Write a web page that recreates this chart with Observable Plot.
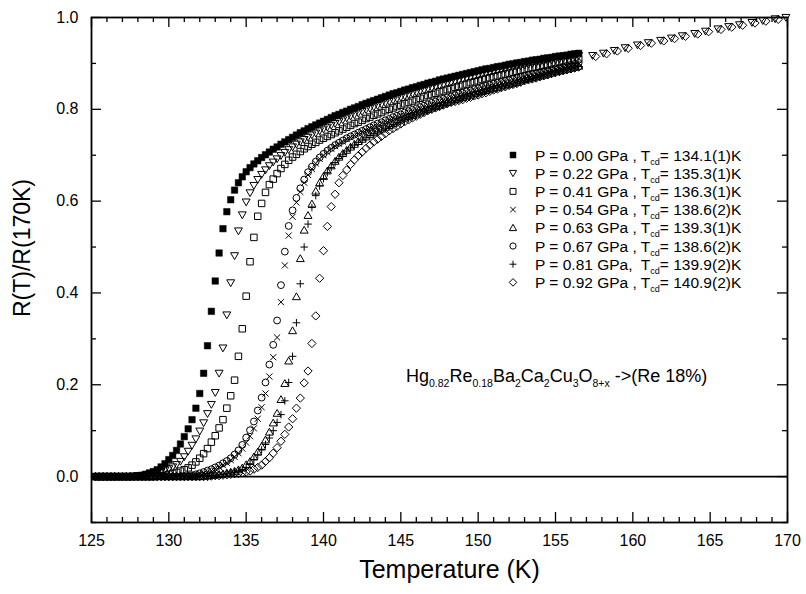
<!DOCTYPE html>
<html><head><meta charset="utf-8">
<script src="https://cdn.jsdelivr.net/npm/d3@7"></script>
<script src="https://cdn.jsdelivr.net/npm/@observablehq/plot@0.6"></script>
<style>
body{margin:0;background:#fff;}
#chart{width:806px;height:594px;}
</style></head><body><div id="chart"></div>
<script>
// Temperature grid (K)
const temperature = [
125.25,125.5,125.75,126,126.25,126.5,126.75,127,
127.25,127.5,127.75,128,128.25,128.5,128.75,129,
129.25,129.5,129.75,130,130.25,130.5,130.75,131,
131.25,131.5,131.75,132,132.25,132.5,132.75,133,
133.25,133.5,133.75,134,134.25,134.5,134.75,135,
135.25,135.5,135.75,136,136.25,136.5,136.75,137,
137.25,137.5,137.75,138,138.25,138.5,138.75,139,
139.25,139.5,139.75,140,140.25,140.5,140.75,141,
141.25,141.5,141.75,142,142.25,142.5,142.75,143,
143.25,143.5,143.75,144,144.25,144.5,144.75,145,
145.25,145.5,145.75,146,146.25,146.5,146.75,147,
147.25,147.5,147.75,148,148.25,148.5,148.75,149,
149.25,149.5,149.75,150,150.25,150.5,150.75,151,
151.25,151.5,151.75,152,152.25,152.5,152.75,153,
153.25,153.5,153.75,154,154.25,154.5,154.75,155,
155.25,155.5,155.75,156,156.25,156.5,156.75,157];

// R(T)/R(170K) for each pressure
const r000 = [
0,0,0,0,0,0,0,0,
0,0,0.001,0.002,0.003,0.005,0.008,0.011,
0.015,0.021,0.028,0.037,0.046,0.057,0.071,0.087,
0.104,0.124,0.149,0.181,0.225,0.285,0.360,0.426,
0.487,0.540,0.577,0.603,0.624,0.640,0.653,0.664,
0.673,0.681,0.688,0.695,0.701,0.707,0.713,0.718,
0.724,0.729,0.734,0.739,0.744,0.749,0.753,0.758,
0.762,0.766,0.770,0.774,0.778,0.782,0.786,0.789,
0.793,0.796,0.800,0.803,0.806,0.810,0.813,0.816,
0.819,0.822,0.825,0.828,0.831,0.834,0.836,0.839,
0.842,0.844,0.847,0.849,0.852,0.854,0.857,0.859,
0.861,0.864,0.866,0.868,0.870,0.872,0.874,0.876,
0.878,0.880,0.882,0.884,0.886,0.888,0.889,0.891,
0.893,0.894,0.896,0.898,0.899,0.901,0.902,0.904,
0.905,0.907,0.908,0.909,0.911,0.912,0.913,0.915,
0.916,0.917,0.918,0.920,0.921,0.922,null,null];

const r022 = [
0,0,0,0,0,0,0,0,
0,0,0,0.001,0.002,0.003,0.005,0.007,
0.009,0.011,0.014,0.017,0.021,0.026,0.033,0.043,
0.055,0.068,0.082,0.099,0.117,0.137,0.157,0.183,
0.225,0.280,0.352,0.422,0.481,0.535,0.570,0.598,
0.618,0.634,0.647,0.658,0.668,0.677,0.685,0.692,
0.699,0.706,0.712,0.718,0.724,0.729,0.734,0.739,
0.744,0.748,0.753,0.757,0.761,0.765,0.769,0.773,
0.777,0.781,0.785,0.788,0.792,0.795,0.799,0.802,
0.805,0.808,0.811,0.814,0.817,0.820,0.823,0.826,
0.829,0.832,0.834,0.837,0.840,0.842,0.845,0.847,
0.850,0.852,0.854,0.857,0.859,0.861,0.863,0.866,
0.868,0.870,0.872,0.874,0.876,0.878,0.880,0.882,
0.884,0.886,0.887,0.889,0.891,0.893,0.894,0.896,
0.898,0.899,0.901,0.902,0.904,0.905,0.907,0.908,
0.910,0.911,0.913,0.914,0.915,0.917,null,null];

const r041 = [
0,0,0,0,0,0,0,0,
0,0,0,0,0,0,0,0,
0.001,0.002,0.003,0.005,0.007,0.009,0.012,0.015,
0.019,0.025,0.032,0.040,0.050,0.061,0.075,0.089,
0.106,0.124,0.149,0.176,0.210,0.262,0.322,0.393,
0.468,0.521,0.567,0.595,0.619,0.636,0.648,0.660,
0.671,0.680,0.689,0.696,0.702,0.708,0.714,0.719,
0.724,0.728,0.733,0.737,0.741,0.745,0.749,0.753,
0.757,0.761,0.765,0.769,0.772,0.776,0.780,0.783,
0.787,0.790,0.793,0.797,0.800,0.803,0.806,0.809,
0.812,0.815,0.818,0.821,0.824,0.827,0.830,0.832,
0.835,0.838,0.840,0.843,0.845,0.848,0.850,0.853,
0.855,0.858,0.860,0.862,0.865,0.867,0.869,0.871,
0.873,0.875,0.877,0.879,0.881,0.883,0.885,0.887,
0.889,0.891,0.892,0.894,0.896,0.897,0.899,0.901,
0.902,0.904,0.905,0.907,0.908,0.910,null,null];

const r054 = [
0,0,0,0,0,0,0,0,
0,0,0,0,0,0,0,0,
0,0,0,0,0,0,0,0,
0,0.001,0.003,0.005,0.007,0.010,0.013,0.017,
0.021,0.025,0.030,0.036,0.043,0.051,0.061,0.074,
0.088,0.105,0.126,0.151,0.181,0.218,0.260,0.303,
0.380,0.460,0.525,0.566,0.597,0.620,0.640,0.657,
0.670,0.682,0.692,0.700,0.707,0.714,0.720,0.725,
0.730,0.735,0.739,0.743,0.747,0.751,0.755,0.759,
0.763,0.767,0.770,0.774,0.777,0.781,0.784,0.787,
0.790,0.793,0.796,0.799,0.802,0.805,0.808,0.811,
0.814,0.817,0.820,0.823,0.825,0.828,0.831,0.833,
0.836,0.838,0.841,0.843,0.846,0.848,0.850,0.853,
0.855,0.857,0.859,0.861,0.864,0.866,0.868,0.870,
0.872,0.874,0.876,0.878,0.880,0.882,0.884,0.886,
0.888,0.890,0.892,0.894,0.896,0.898,null,null];

const r063 = [
0,0,0,0,0,0,0,0,
0,0,0,0,0,0,0,0,
0,0,0,0,0,0,0,0,
0,0,0,0,0.001,0.002,0.003,0.004,
0.005,0.006,0.008,0.010,0.012,0.015,0.019,0.026,
0.033,0.043,0.054,0.066,0.080,0.097,0.117,0.138,
0.168,0.203,0.252,0.318,0.392,0.475,0.537,0.569,
0.594,0.622,0.640,0.654,0.666,0.677,0.687,0.696,
0.704,0.711,0.718,0.724,0.730,0.735,0.740,0.745,
0.749,0.753,0.757,0.761,0.765,0.769,0.773,0.777,
0.781,0.784,0.787,0.790,0.794,0.797,0.800,0.803,
0.806,0.809,0.812,0.815,0.818,0.821,0.823,0.826,
0.829,0.831,0.834,0.836,0.839,0.841,0.844,0.846,
0.848,0.851,0.853,0.855,0.857,0.859,0.862,0.865,
0.867,0.869,0.871,0.873,0.875,0.877,0.879,0.882,
0.884,0.886,0.888,0.890,0.892,0.894,null,null];

const r067 = [
0,0,0,0,0,0,0,0,
0,0,0,0,0,0,0,0,
0,0,0,0,0,0,0,0,
0.001,0.003,0.005,0.007,0.010,0.013,0.016,0.020,
0.024,0.029,0.034,0.040,0.048,0.057,0.069,0.085,
0.101,0.120,0.144,0.172,0.205,0.244,0.287,0.340,
0.417,0.490,0.546,0.580,0.607,0.628,0.647,0.663,
0.675,0.686,0.695,0.703,0.710,0.716,0.722,0.727,
0.732,0.737,0.741,0.745,0.749,0.753,0.757,0.761,
0.765,0.769,0.772,0.776,0.779,0.783,0.786,0.789,
0.793,0.796,0.799,0.802,0.805,0.808,0.811,0.814,
0.817,0.820,0.823,0.826,0.828,0.831,0.834,0.836,
0.839,0.841,0.844,0.846,0.849,0.851,0.853,0.856,
0.858,0.860,0.862,0.864,0.867,0.869,0.871,0.873,
0.875,0.877,0.879,0.881,0.883,0.885,0.887,0.889,
0.891,0.893,0.895,0.897,0.899,0.901,null,null];

const r081 = [
0,0,0,0,0,0,0,0,
0,0,0,0,0,0,0,0,
0,0,0,0,0,0,0,0,
0,0,0,0,0,0.001,0.002,0.003,
0.004,0.005,0.007,0.008,0.010,0.012,0.015,0.020,
0.028,0.037,0.047,0.058,0.070,0.084,0.100,0.118,
0.135,0.165,0.205,0.262,0.335,0.420,0.500,0.550,
0.586,0.612,0.633,0.649,0.662,0.673,0.684,0.693,
0.701,0.709,0.716,0.722,0.728,0.733,0.738,0.743,
0.747,0.751,0.755,0.759,0.763,0.767,0.771,0.776,
0.779,0.782,0.785,0.788,0.792,0.795,0.798,0.802,
0.805,0.808,0.811,0.814,0.816,0.819,0.821,0.824,
0.827,0.829,0.832,0.834,0.837,0.839,0.842,0.845,
0.847,0.849,0.851,0.853,0.855,0.857,0.860,0.863,
0.865,0.867,0.869,0.871,0.873,0.875,0.877,0.880,
0.882,0.884,0.886,0.888,0.890,0.893,null,null];

const r092 = [
0,0,0,0,0,0,0,0,
0,0,0,0,0,0,0,0,
0,0,0,0,0,0,0,0,
0,0,0,0,0,0,0.001,0.002,
0.002,0.003,0.004,0.005,0.006,0.007,0.008,0.010,
0.012,0.016,0.020,0.025,0.033,0.041,0.051,0.063,
0.077,0.092,0.108,0.126,0.149,0.171,0.204,0.230,
0.290,0.350,0.432,0.492,0.545,0.588,0.615,0.640,
0.656,0.668,0.680,0.690,0.699,0.707,0.715,0.722,
0.729,0.735,0.741,0.747,0.753,0.758,0.763,0.768,
0.773,0.777,0.781,0.785,0.789,0.793,0.797,0.800,
0.803,0.806,0.809,0.812,0.815,0.817,0.819,0.821,
0.824,0.826,0.829,0.831,0.834,0.836,0.839,0.842,
0.844,0.847,0.849,0.852,0.854,0.856,0.859,0.862,
0.864,0.866,0.868,0.871,0.873,0.875,0.878,0.880,
0.882,0.884,0.886,0.888,0.890,0.892,null,null];

// High-temperature tails (157–170 K)
const tailT022 = [157.4,158.1,158.8,159.5,160.3,161.0,161.8,162.5,163.2,164.0,164.7,165.5,166.2,166.9,167.7,168.4,169.2,169.9];
const tailR022 = [0.917,0.922,0.928,0.934,0.940,0.945,0.950,0.955,0.960,0.965,0.970,0.975,0.980,0.984,0.989,0.993,0.997,1.000];
const tailT092 = [157.6,158.3,159.0,159.7,160.5,161.2,162.0,162.7,163.4,164.2,164.9,165.7,166.4,167.1,167.9,168.6,169.4];
const tailR092 = [0.915,0.921,0.927,0.933,0.939,0.944,0.949,0.954,0.959,0.964,0.969,0.974,0.979,0.983,0.988,0.992,0.996];

// Legend texts
const pressureLabels = ["P = 0.00 GPa , T","P = 0.22 GPa , T","P = 0.41 GPa , T","P = 0.54 GPa , T","P = 0.63 GPa , T","P = 0.67 GPa , T","P = 0.81 GPa,  T","P = 0.92 GPa , T"];
const tcdLabels = ["= 134.1(1)K","= 135.3(1)K","= 136.3(1)K","= 138.6(2)K","= 139.3(1)K","= 138.6(2)K","= 139.9(2)K","= 140.9(2)K"];

// Ticks
const xMajor = [125,130,135,140,145,150,155,160,165,170];
const xMinor = [126,127,128,129,131,132,133,134,136,137,138,139,141,142,143,144,146,147,148,149,151,152,153,154,156,157,158,159,161,162,163,164,166,167,168,169];
const yMajor = [0,0.2,0.4,0.6,0.8,1.0];
const yMinor = [-0.1,0.1,0.3,0.5,0.7,0.9];

// ---- symbols ----
function sym(fn){ return {draw(c, size){ fn(c, Math.sqrt(size/Math.PI)); }}; }
const symSquare = sym((c,r)=>{const s=0.9*r; c.moveTo(-s,-s); c.lineTo(s,-s); c.lineTo(s,s); c.lineTo(-s,s); c.closePath();});
const symTriDown = sym((c,r)=>{const w=1.1*r; c.moveTo(-w,-0.85*r); c.lineTo(w,-0.85*r); c.lineTo(0,1.05*r); c.closePath();});
const symTriUp = sym((c,r)=>{const w=1.1*r; c.moveTo(-w,0.85*r); c.lineTo(w,0.85*r); c.lineTo(0,-1.05*r); c.closePath();});
const symCircle = sym((c,r)=>{const a=0.95*r; c.moveTo(a,0); c.arc(0,0,a,0,2*Math.PI);});
const symTimes = sym((c,r)=>{const a=0.85*r; c.moveTo(-a,-a); c.lineTo(a,a); c.moveTo(a,-a); c.lineTo(-a,a);});
const symPlus = sym((c,r)=>{const a=1.05*r; c.moveTo(-a,0); c.lineTo(a,0); c.moveTo(0,-a); c.lineTo(0,a);});
const symDiamond = sym((c,r)=>{const a=1.15*r; c.moveTo(0,-a); c.lineTo(a,0); c.lineTo(0,a); c.lineTo(-a,0); c.closePath();});

function rows(arr, tailT, tailR){
  const out = temperature.map((t,i)=>({t, r: arr[i]})).filter(d=>d.r!=null);
  if (tailT) tailT.forEach((t,i)=>out.push({t, r: tailR[i]}));
  return out;
}
const series = [
  {data: rows(r000), symbol: symSquare, filled: true},
  {data: rows(r022, tailT022, tailR022), symbol: symTriDown},
  {data: rows(r041), symbol: symSquare},
  {data: rows(r054), symbol: symTimes},
  {data: rows(r063), symbol: symTriUp},
  {data: rows(r067), symbol: symCircle},
  {data: rows(r081), symbol: symPlus},
  {data: rows(r092, tailT092, tailR092), symbol: symDiamond}
];

const R = 3.6;
const frameW = 696, frameH = 505;
const font = '"Liberation Sans", Arial, sans-serif';

const marks = [
  Plot.ruleY([0], {stroke: "black", strokeWidth: 1.6}),
  ...series.map(s => Plot.dot(s.data, {
    x: "t", y: "r", r: R, symbol: s.symbol,
    fill: s.filled ? "black" : "none",
    stroke: "black", strokeWidth: s.filled ? 0.5 : 1
  })),
  Plot.frame({stroke: "black", strokeWidth: 1.8}),
  Plot.ruleX(xMajor, {x: d=>d, insetTop: frameH - 10, stroke: "black", strokeWidth: 1.3}),
  Plot.ruleX(xMajor, {x: d=>d, insetBottom: frameH - 10, stroke: "black", strokeWidth: 1.3}),
  Plot.ruleX(xMinor, {x: d=>d, insetTop: frameH - 5, stroke: "black", strokeWidth: 1.3}),
  Plot.ruleX(xMinor, {x: d=>d, insetBottom: frameH - 5, stroke: "black", strokeWidth: 1.3}),
  Plot.ruleY(yMajor, {y: d=>d, insetRight: frameW - 10, stroke: "black", strokeWidth: 1.3}),
  Plot.ruleY(yMajor, {y: d=>d, insetLeft: frameW - 10, stroke: "black", strokeWidth: 1.3}),
  Plot.ruleY(yMinor, {y: d=>d, insetRight: frameW - 5, stroke: "black", strokeWidth: 1.3}),
  Plot.ruleY(yMinor, {y: d=>d, insetLeft: frameW - 5, stroke: "black", strokeWidth: 1.3}),
  Plot.axisX({ticks: xMajor, tickSize: 0, tickPadding: 12, fontSize: 16, label: null, tickFormat: d3.format("d")}),
  Plot.axisY({ticks: yMajor, tickSize: 0, tickPadding: 13, fontSize: 16, label: null, tickFormat: d3.format(".1f")}),
  Plot.text(["Temperature (K)"], {text: d=>d, frameAnchor: "bottom", textAnchor: "middle", dx: 10, dy: 55, fontSize: 25, fill: "black"}),
  Plot.text(["R(T)/R(170K)"], {text: d=>d, frameAnchor: "left", textAnchor: "middle", dx: -69, dy: -22, rotate: -90, fontSize: 23, fill: "black"})
];

const chart = Plot.plot({
  width: 806, height: 594,
  marginLeft: 91, marginRight: 19, marginTop: 17, marginBottom: 72,
  x: {domain: [125, 170]},
  y: {domain: [-0.1, 1.0]},
  style: {fontFamily: font, fontSize: "16px", color: "black", background: "white"},
  marks
});
document.getElementById("chart").appendChild(chart);

// Legend and compound annotation
const svg = d3.select(chart);
const lg = svg.append("g").attr("font-family", font).attr("font-size", 15.5).attr("fill", "black").attr("text-anchor", "start");
series.forEach((s, i) => {
  const y = 155 + i * 18.2;
  lg.append("path")
    .attr("transform", `translate(513,${y})`)
    .attr("d", d3.symbol().type(s.symbol).size(Math.PI * 3.3 * 3.3)())
    .attr("fill", s.filled ? "black" : "none")
    .attr("stroke", "black").attr("stroke-width", s.filled ? 0.5 : 1);
  const t = lg.append("text").attr("x", 535).attr("y", y + 5.5);
  t.append("tspan").text(pressureLabels[i]);
  t.append("tspan").attr("dy", 4).attr("font-size", 9).text("cd");
  t.append("tspan").attr("dy", -4).text(tcdLabels[i]);
});

const formulaParts = [["Hg",0],["0.82",1],["Re",0],["0.18",1],["Ba",0],["2",1],["Ca",0],["2",1],["Cu",0],["3",1],["O",0],["8+x",1],[" ->(Re 18%)",0]];
const ft = svg.append("text").attr("x", 406).attr("y", 382).attr("font-family", font).attr("font-size", 18).attr("fill", "black").attr("text-anchor", "start");
let prevSub = 0;
formulaParts.forEach(([txt, sub]) => {
  const ts = ft.append("tspan").text(txt);
  if (sub !== prevSub) ts.attr("dy", sub ? 5 : -5);
  if (sub) ts.attr("font-size", 10.5);
  prevSub = sub;
});
</script>
</body></html>
